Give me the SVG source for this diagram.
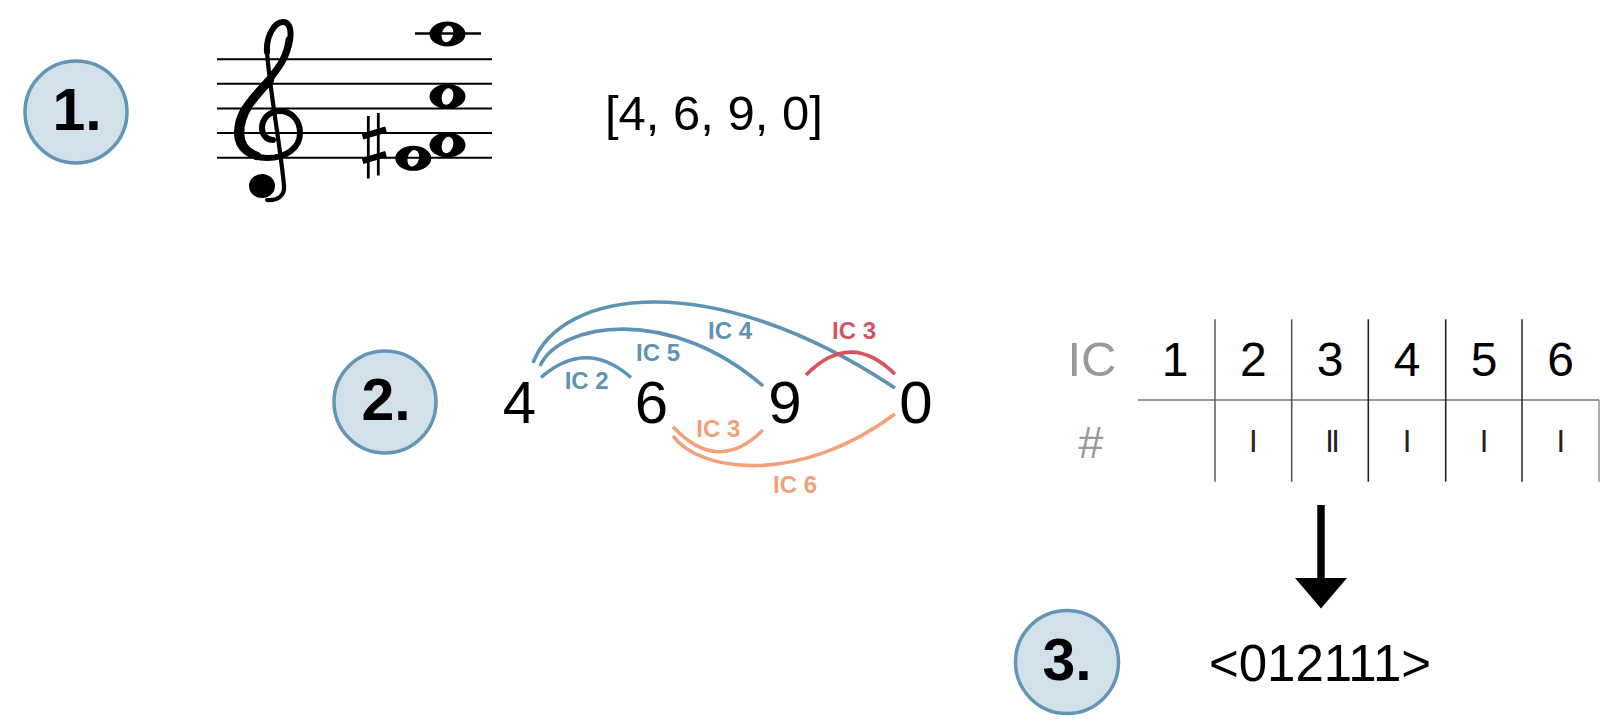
<svg xmlns="http://www.w3.org/2000/svg" xmlns:xlink="http://www.w3.org/1999/xlink" width="1622" height="724" viewBox="0 0 1622 724">
<style>
.step{fill:#d2e0ea;stroke:#6396b5;stroke-width:3.5}
.stepT{font-family:"Liberation Sans",Arial,sans-serif;font-weight:bold;font-size:59px;fill:#000;text-anchor:middle}
.txt{font-family:"Liberation Sans",Arial,sans-serif;fill:#000}
.num{font-size:60px;text-anchor:middle}
.lbl{font-family:"Liberation Sans",Arial,sans-serif;font-weight:bold;font-size:24px;text-anchor:middle}
.blue{stroke:#5f93b3}
.red{stroke:#d65461}
.orange{stroke:#f3a07b}
.arc{fill:none;stroke-width:3.6}
.staff line{stroke:#000;stroke-width:2}
.th{font-size:48px;text-anchor:middle}
.tally{font-size:31px;text-anchor:middle;fill:#222}
.gray{fill:#999}
</style>
<defs>
<path id="whole" fill="#000" fill-rule="evenodd" d="M-18,0 a18,12.5 0 1,0 36,0 a18,12.5 0 1,0 -36,0 Z M2.3,-8.1 a8.4,5.6 -74 1,0 -4.6,16.2 a8.4,5.6 -74 1,0 4.6,-16.2 Z"/>
</defs>

<g id="step1">
<circle class="step" cx="76" cy="112" r="51"/>
<text class="stepT" x="77" y="130">1.</text>
</g>

<g id="score" class="staff">
<line x1="217" y1="59.3" x2="492" y2="59.3"/>
<line x1="217" y1="83.8" x2="492" y2="83.8"/>
<line x1="217" y1="108.4" x2="492" y2="108.4"/>
<line x1="217" y1="133" x2="492" y2="133"/>
<line x1="217" y1="157.7" x2="492" y2="157.7"/>
<line x1="415" y1="33.5" x2="481" y2="33.5" style="stroke-width:2.5"/>
<g id="clef" fill="none" stroke="#000" stroke-linecap="round">
<path d="M284,186 C281,150 270,92 267,52" stroke-width="4.2"/>
<path d="M267,52 C266,37 274,22 283,22 C291,22 292,34 289,45 C286,60 272,76 258,91 C244,106 237,118 237,133 C237,150 251,158 267,158 C286,158 300,148 300,133 C300,119 290,111 280,111 C269,111 262,119 262,128 C262,135 267,140 273,140" stroke-width="6"/>
<path d="M270,80 C254,97 240,112 240,133 C240,146 248,153 257,156" stroke-width="8.5"/>
<path d="M289,40 C287,56 280,66 272,76" stroke-width="7"/>
<path d="M284,186 C285,196 277,201 267,200" stroke-width="4.2"/>
<ellipse cx="262" cy="186" rx="13" ry="12" fill="#000" stroke="none"/>
</g>
<g id="sharp" stroke="#000">
<line x1="368.3" y1="116" x2="368.3" y2="178.5" style="stroke-width:2.8"/>
<line x1="378.3" y1="113" x2="378.3" y2="175.5" style="stroke-width:2.8"/>
<line x1="362.5" y1="136.5" x2="386" y2="129.5" style="stroke-width:6"/>
<line x1="362.5" y1="161" x2="386" y2="154" style="stroke-width:6"/>
</g>
<use xlink:href="#whole" href="#whole" x="413.3" y="158.3"/>
<use xlink:href="#whole" href="#whole" x="447.5" y="145"/>
<use xlink:href="#whole" href="#whole" x="447.5" y="96.5"/>
<use xlink:href="#whole" href="#whole" x="447.5" y="34"/>
</g>

<g id="pcset">
<text class="txt" x="605" y="130" font-size="49">[4, 6, 9, 0]</text>
</g>

<g id="step2">
<circle class="step" cx="385" cy="402" r="51"/>
<text class="stepT" x="386" y="420">2.</text>
</g>

<g id="connectors">
<path class="arc blue" d="M533,363 C560,290 710,265 895,388"/>
<path class="arc blue" d="M540,366 C560,322 670,305 763,386"/>
<path class="arc blue" d="M541,377.5 Q586,338 631,377.5"/>
<path class="arc red" d="M806,375 Q850.5,329.6 895,374.3"/>
<path class="arc orange" d="M673,426.7 Q718,475 763,430"/>
<path class="arc orange" d="M673,436 C700,473 800,485 895,414"/>
</g>

<g id="node-4"><text class="txt num" x="519.5" y="422.5">4</text></g>
<g id="node-6"><text class="txt num" x="651.5" y="422.5">6</text></g>
<g id="node-9"><text class="txt num" x="785" y="422.5">9</text></g>
<g id="node-0"><text class="txt num" x="916" y="422.5">0</text></g>

<g id="arc-labels">
<text class="lbl" x="586.7" y="389" fill="#5f93b3">IC 2</text>
<text class="lbl" x="658" y="361" fill="#5f93b3">IC 5</text>
<text class="lbl" x="730" y="339.3" fill="#5f93b3">IC 4</text>
<text class="lbl" x="854" y="339.3" fill="#d65461">IC 3</text>
<text class="lbl" x="718.3" y="437" fill="#f3a07b">IC 3</text>
<text class="lbl" x="795" y="493.3" fill="#f3a07b">IC 6</text>
</g>

<g id="table">
<line x1="1138" y1="400" x2="1599" y2="400" stroke="#777" stroke-width="1.6"/>
<line x1="1215" y1="319.3" x2="1215" y2="481.7" stroke="#666" stroke-width="1.6"/>
<line x1="1291.7" y1="319.3" x2="1291.7" y2="481.7" stroke="#555" stroke-width="1.6"/>
<line x1="1368.3" y1="319.3" x2="1368.3" y2="481.7" stroke="#222" stroke-width="1.6"/>
<line x1="1445.7" y1="319.3" x2="1445.7" y2="481.7" stroke="#222" stroke-width="1.6"/>
<line x1="1522" y1="319.3" x2="1522" y2="481.7" stroke="#333" stroke-width="1.6"/>
<line x1="1599" y1="400" x2="1599" y2="481.7" stroke="#999" stroke-width="1.6"/>
<text class="txt gray" x="1092" y="376" font-size="49" text-anchor="middle">IC</text>
<text class="txt th" x="1175" y="376">1</text>
<text class="txt th" x="1253.3" y="376">2</text>
<text class="txt th" x="1330" y="376">3</text>
<text class="txt th" x="1407" y="376">4</text>
<text class="txt th" x="1484" y="376">5</text>
<text class="txt th" x="1560.7" y="376">6</text>
<text class="txt gray" x="1090.8" y="458" font-size="45" text-anchor="middle">#</text>
<text class="txt tally" x="1253.3" y="452">I</text>
<text class="txt tally" x="1331.3" y="452" letter-spacing="-2.6">II</text>
<text class="txt tally" x="1407" y="452">I</text>
<text class="txt tally" x="1484" y="452">I</text>
<text class="txt tally" x="1560.7" y="452">I</text>
</g>

<g id="arrow">
<line x1="1321" y1="505" x2="1321" y2="580" stroke="#000" stroke-width="7.5"/>
<polygon points="1295,578 1347,578 1321,608.5" fill="#000"/>
</g>

<g id="step3">
<circle class="step" cx="1067" cy="662" r="51.5"/>
<text class="stepT" x="1067" y="680">3.</text>
</g>

<g id="vector">
<text class="txt" x="1320" y="681" font-size="51" text-anchor="middle">&lt;012111&gt;</text>
</g>
</svg>
